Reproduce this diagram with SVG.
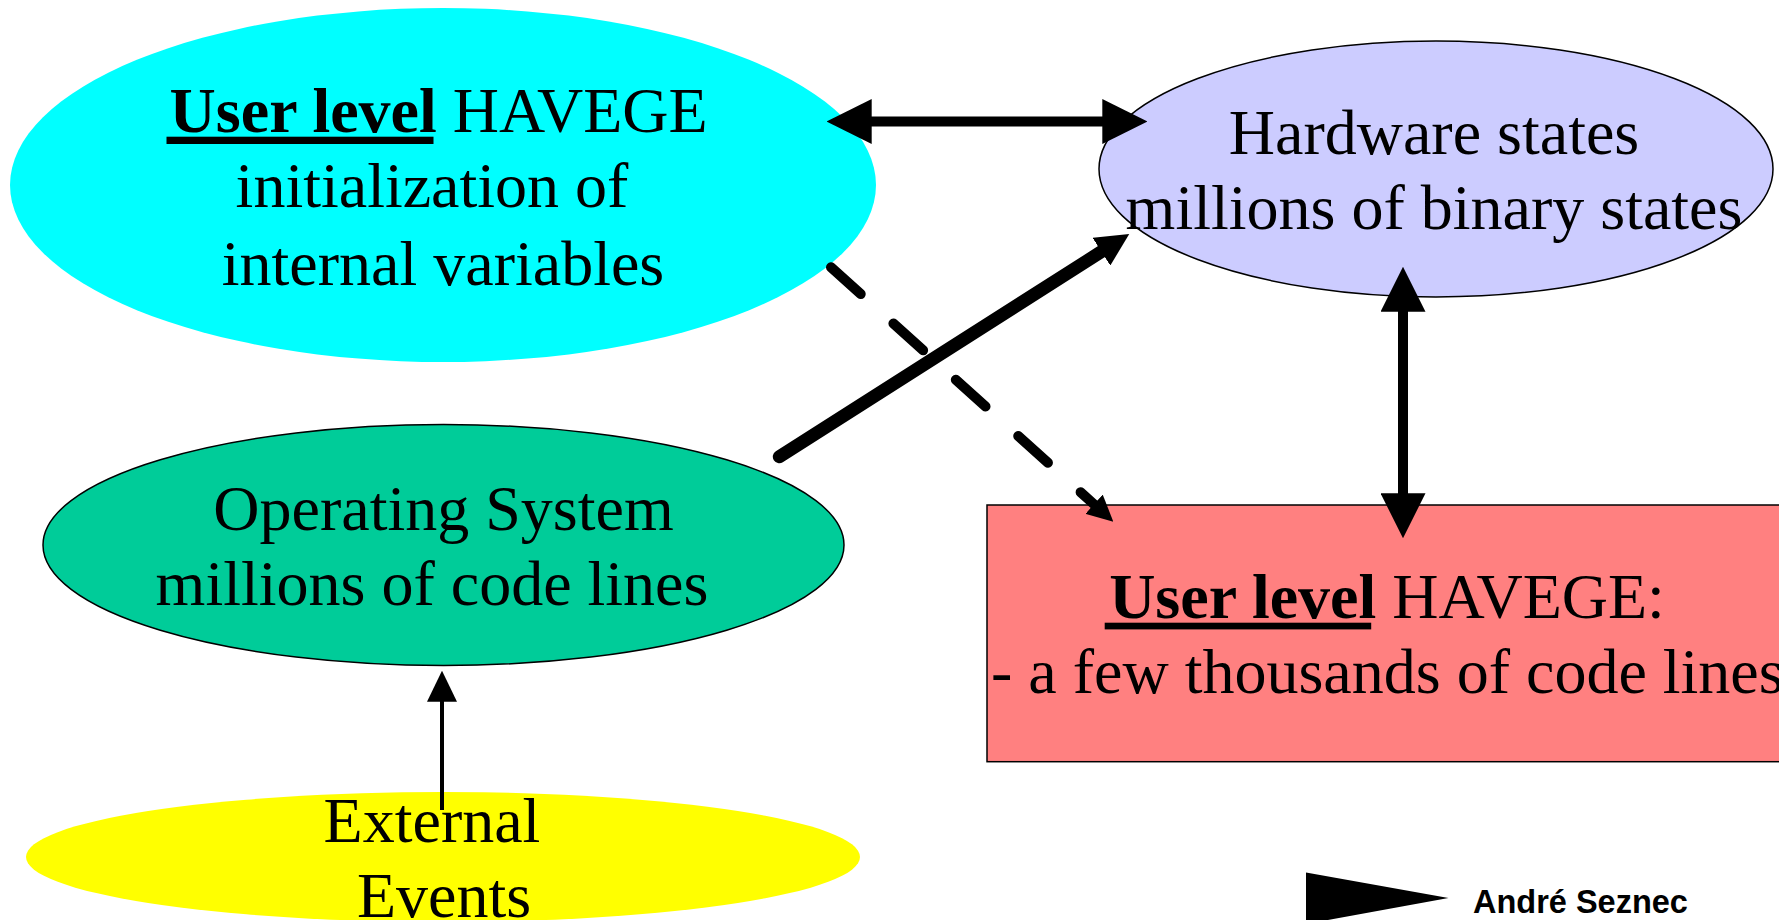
<svg xmlns="http://www.w3.org/2000/svg" width="1779" height="920" viewBox="0 0 1779 920">
<style>
.t{font-family:"Liberation Serif","Times New Roman",serif;font-size:64px;fill:#000}
.b{font-weight:bold}
.sig{font-family:"Liberation Sans",Arial,sans-serif;font-size:32.5px;font-weight:bold;fill:#000}
.ol{stroke:#000;stroke-width:1.5}
.c{fill:none;stroke:#000}
</style>
<defs>
<marker id="mBig" viewBox="0 0 45 45" markerWidth="45" markerHeight="45" refX="2" refY="22.5" orient="auto-start-reverse" markerUnits="userSpaceOnUse"><path d="M0,0 L45,22.5 L0,45 Z" fill="#000"/></marker>
<marker id="mMid" viewBox="0 0 33 33" markerWidth="33" markerHeight="33" refX="2" refY="16.5" orient="auto" markerUnits="userSpaceOnUse"><path d="M0,0 L33,16.5 L0,33 Z" fill="#000"/></marker>
<marker id="mSmall" viewBox="0 0 26 26" markerWidth="26" markerHeight="26" refX="2" refY="13" orient="auto" markerUnits="userSpaceOnUse"><path d="M0,0 L26,13 L0,26 Z" fill="#000"/></marker>
<marker id="mThin" viewBox="0 0 31 30" markerWidth="31" markerHeight="30" refX="2" refY="15" orient="auto" markerUnits="userSpaceOnUse"><path d="M0,0 L31,15 L0,30 Z" fill="#000"/></marker>
</defs>
<rect x="0" y="0" width="1779" height="920" fill="#fff"/>

<g id="node-init">
<ellipse cx="443" cy="185" rx="433" ry="177" fill="#00FFFF"/>
<text class="t" x="438.6" y="131.7" text-anchor="middle"><tspan class="b">User level</tspan> HAVEGE</text>
<rect x="166.5" y="136.7" width="267" height="7.3" fill="#000"/>
<text class="t" x="432" y="206.7" text-anchor="middle">initialization of</text>
<text class="t" x="443" y="285" text-anchor="middle">internal variables</text>
</g>

<g id="node-hardware">
<ellipse class="ol" cx="1436" cy="169" rx="337" ry="128" fill="#CCCCFF"/>
<text class="t" x="1434" y="154" text-anchor="middle">Hardware states</text>
<text class="t" x="1434" y="229.3" text-anchor="middle">millions of binary states</text>
</g>

<g id="node-os">
<ellipse class="ol" cx="443.5" cy="545" rx="400.5" ry="120.5" fill="#00CC99"/>
<text class="t" x="443.5" y="530" text-anchor="middle">Operating System</text>
<text class="t" x="432" y="605" text-anchor="middle">millions of code lines</text>
</g>

<g id="node-havege">
<rect class="ol" x="987" y="505" width="810" height="256.7" fill="#FF8080"/>
<text class="t" x="1387" y="618.3" text-anchor="middle"><tspan class="b">User level</tspan> HAVEGE:</text>
<rect x="1104.7" y="622.7" width="266.5" height="6.7" fill="#000"/>
<text class="t" x="991" y="693.3">- a few thousands of code lines</text>
</g>

<g id="node-external">
<ellipse cx="443" cy="857" rx="417" ry="65" fill="#FFFF00"/>
<text class="t" x="432" y="841.7" text-anchor="middle">External</text>
<text class="t" x="444" y="916.7" text-anchor="middle">Events</text>
</g>

<g id="connectors">
<line class="c" x1="869.7" y1="121.5" x2="1104.3" y2="121.5" stroke-width="10" marker-start="url(#mBig)" marker-end="url(#mBig)"/>
<line class="c" x1="1403" y1="309.7" x2="1403" y2="495.3" stroke-width="10" marker-start="url(#mBig)" marker-end="url(#mBig)"/>
<line class="c" x1="779.3" y1="456.7" x2="1103.1" y2="250.6" stroke-width="13" stroke-linecap="round" marker-end="url(#mMid)"/>
<line class="c" x1="831" y1="267.3" x2="1095.5" y2="505.6" stroke-width="10" stroke-linecap="round" stroke-dasharray="40 44" marker-end="url(#mSmall)"/>
<line class="c" x1="442" y1="810" x2="442" y2="699.7" stroke-width="4" marker-end="url(#mThin)"/>
</g>

<g id="footer">
<polygon points="1306,872.5 1448.5,898 1306,924" fill="#000"/>
<text class="sig" x="1473" y="913.3">André Seznec</text>
</g>
</svg>
